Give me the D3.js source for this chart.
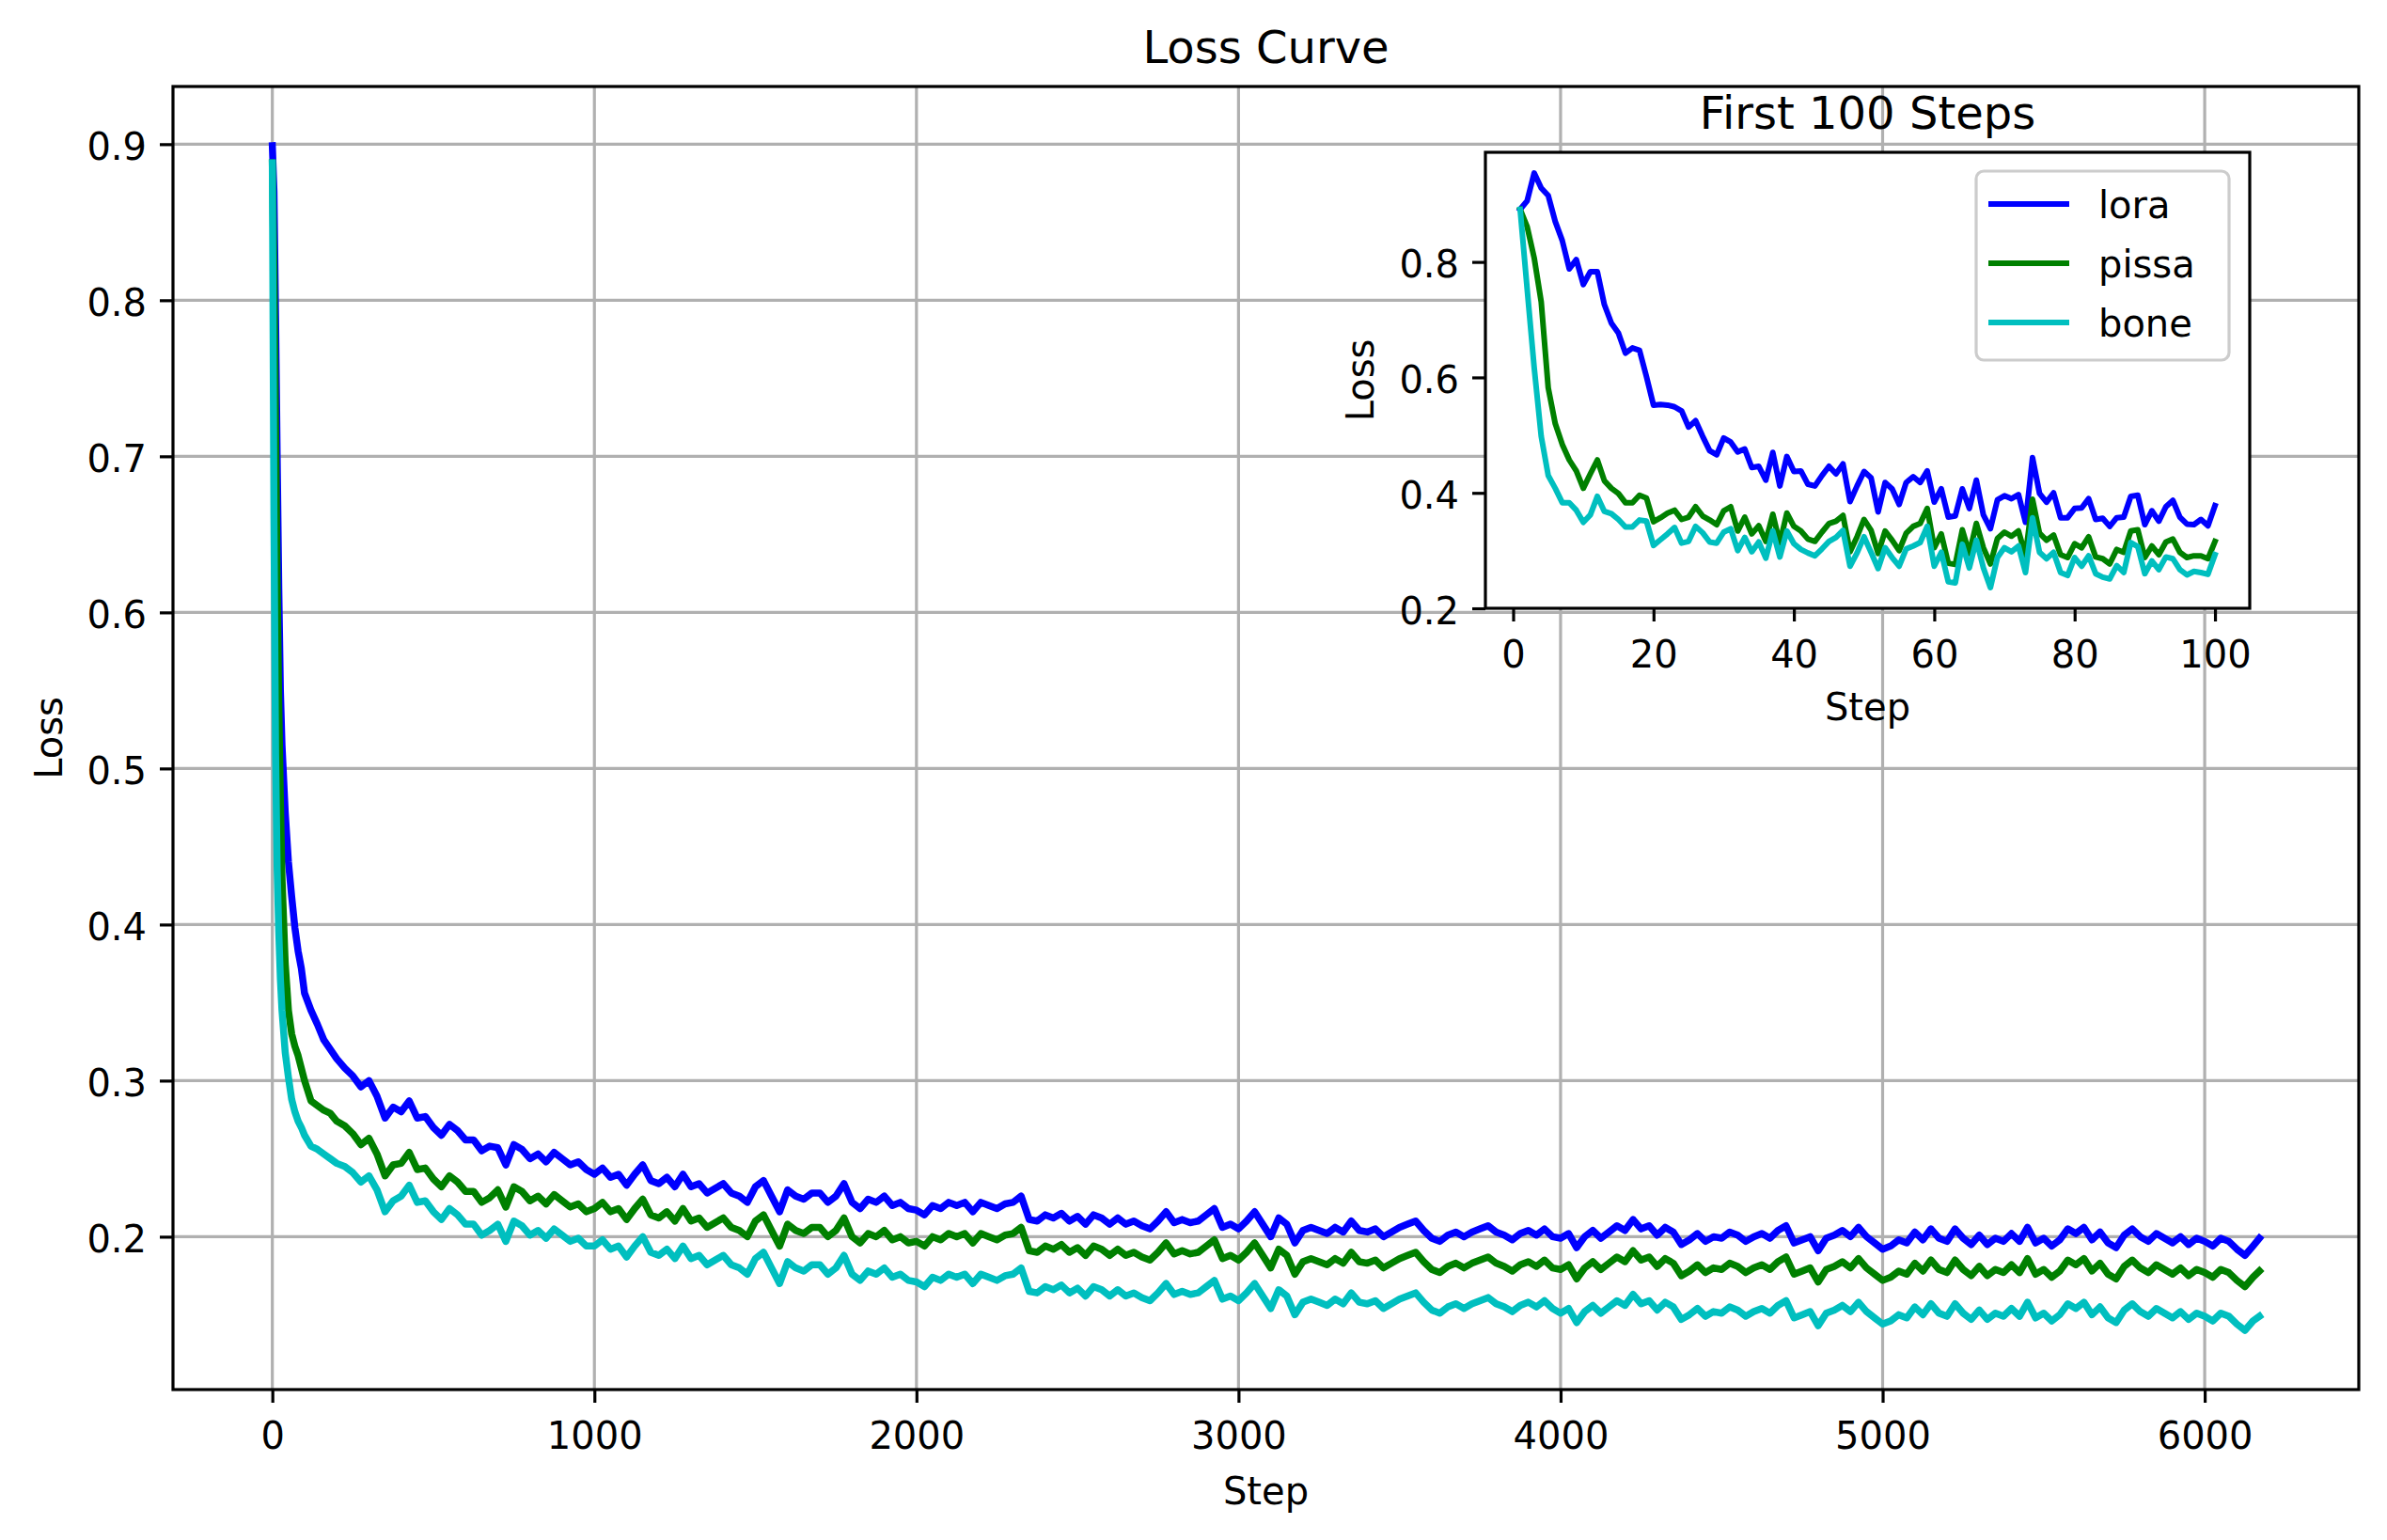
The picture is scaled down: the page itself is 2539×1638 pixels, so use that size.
<!DOCTYPE html>
<html>
<head>
<meta charset="utf-8">
<script src="https://cdn.jsdelivr.net/npm/d3@7"></script>
<style>
  body { margin: 0; background: #fff; }
  svg text { font-family: "DejaVu Sans", sans-serif; fill: #000; }
</style>
</head>
<body>
<svg id="chart" width="2539" height="1638"></svg>
<script>
var seriesNames = ['lora', 'pissa', 'bone'];
var seriesColors = ['#0000ff', '#008000', '#00bfbf'];

// main plot: dense steps at the start, then every 25 steps
var earlySteps = [0, 5, 10, 15, 20, 25, 30, 40, 50, 60, 70, 80, 90, 100, 120, 140, 160, 180, 200];
var mainSteps = earlySteps.concat(d3.range(225, 6151, 25), [6170]);

var loraLoss = [
  0.899, 0.87, 0.79, 0.70, 0.615, 0.55, 0.515, 0.472, 0.44, 0.418, 0.398, 0.383, 0.372, 0.356, 0.345, 0.336, 0.326, 0.320, 0.314,
  .308, .303, .296, .300, .290, .276, .283, .280, .287, .276, .277,
  .270, .265, .272, .268, .262, .262, .255, .258, .257, .246, .259, .256, .250, .253, .248, .254, .250, .246, .248, .243,
  .240, .244, .238, .240, .233, .240, .246, .236, .234, .238, .232, .240, .232, .234, .228, .231, .234, .228, .226, .222,
  .232, .236, .226, .216, .230, .226, .224, .228, .228, .222, .226, .234, .222, .218, .224, .222, .226, .220, .222, .218,
  .217, .214, .220, .218, .222, .220, .222, .216, .222, .220, .218, .221, .222, .226, .211, .210, .214, .212, .215, .210,
  .213, .208, .214, .212, .208, .212, .208, .210, .207, .205, .210, .216, .209, .211, .209, .210, .214, .218, .206, .208,
  .205, .210, .216, .208, .200, .212, .208, .196, .204, .206, .204, .202, .206, .203, .210, .204, .203, .205, .200, .203,
  .206, .208, .210, .204, .199, .197, .201, .203, .200, .203, .205, .207, .203, .201, .198, .202, .204, .201, .205, .200,
  .199, .202, .193, .200, .204, .199, .203, .207, .204, .211, .205, .207, .201, .206, .203, .195, .198, .202, .197, .200,
  .199, .203, .201, .197, .200, .202, .199, .204, .207, .196, .198, .200, .191, .199, .201, .204, .200, .206, .200, .196,
  .192, .194, .198, .196, .203, .198, .205, .199, .197, .205, .199, .195, .201, .195, .199, .197, .202, .197, .206, .196,
  .199, .194, .198, .205, .202, .206, .198, .203, .196, .193, .201, .205, .200, .197, .202, .199, .196, .200, .195, .199,
  .197, .194, .199, .197, .192, .188, .194, .199
];
var pissaLoss = [
  0.888, 0.82, 0.72, 0.62, 0.54, 0.48, 0.43, 0.375, 0.345, 0.330, 0.322, 0.316, 0.308, 0.300, 0.287, 0.284, 0.281, 0.279, 0.274,
  .271, .266, .259, .263, .253, .239, .246, .247, .254, .243, .244,
  .237, .232, .239, .235, .229, .229, .222, .225, .230, .219, .232, .229, .223, .226, .221, .227, .223, .219, .221, .216,
  .218, .222, .216, .218, .211, .218, .224, .214, .212, .216, .210, .218, .210, .212, .206, .209, .212, .206, .204, .200,
  .210, .214, .204, .194, .208, .204, .202, .206, .206, .200, .204, .212, .200, .196, .202, .200, .204, .198, .200, .196,
  .197, .194, .200, .198, .202, .200, .202, .196, .202, .200, .198, .201, .202, .206, .191, .190, .194, .192, .195, .190,
  .193, .188, .194, .192, .188, .192, .188, .190, .187, .185, .190, .196, .189, .191, .189, .190, .194, .198, .186, .188,
  .185, .190, .196, .188, .180, .192, .188, .176, .184, .186, .184, .182, .186, .183, .190, .184, .183, .185, .180, .183,
  .186, .188, .190, .184, .179, .177, .181, .183, .180, .183, .185, .187, .183, .181, .178, .182, .184, .181, .185, .180,
  .179, .182, .173, .180, .184, .179, .183, .187, .184, .191, .185, .187, .181, .186, .183, .175, .178, .182, .177, .180,
  .179, .183, .181, .177, .180, .182, .179, .184, .187, .176, .178, .180, .171, .179, .181, .184, .180, .186, .180, .176,
  .172, .174, .178, .176, .183, .178, .185, .179, .177, .185, .179, .175, .181, .175, .179, .177, .182, .177, .186, .176,
  .179, .174, .178, .185, .182, .186, .178, .183, .176, .173, .181, .185, .180, .177, .182, .179, .176, .180, .175, .179,
  .177, .174, .179, .177, .172, .168, .174, .178
];
var boneLoss = [
  0.888, 0.66, 0.51, 0.435, 0.395, 0.365, 0.345, 0.318, 0.302, 0.288, 0.280, 0.274, 0.270, 0.265, 0.258, 0.256, 0.253, 0.250, 0.247,
  .245, .241, .235, .239, .230, .216, .223, .226, .233, .222, .223,
  .216, .211, .218, .214, .208, .208, .201, .204, .208, .197, .210, .207, .201, .204, .199, .205, .201, .197, .199, .194,
  .194, .198, .192, .194, .187, .194, .200, .190, .188, .192, .186, .194, .186, .188, .182, .185, .188, .182, .180, .176,
  .186, .190, .180, .170, .184, .180, .178, .182, .182, .176, .180, .188, .176, .172, .178, .176, .180, .174, .176, .172,
  .171, .168, .174, .172, .176, .174, .176, .170, .176, .174, .172, .175, .176, .180, .165, .164, .168, .166, .169, .164,
  .167, .162, .168, .166, .162, .166, .162, .164, .161, .159, .164, .170, .163, .165, .163, .164, .168, .172, .160, .162,
  .159, .164, .170, .162, .154, .166, .162, .150, .158, .160, .158, .156, .160, .157, .164, .158, .157, .159, .154, .157,
  .160, .162, .164, .158, .153, .151, .155, .157, .154, .157, .159, .161, .157, .155, .152, .156, .158, .155, .159, .154,
  .151, .154, .145, .152, .156, .151, .155, .159, .156, .163, .157, .159, .153, .158, .155, .147, .150, .154, .149, .152,
  .151, .155, .153, .149, .152, .154, .151, .156, .159, .148, .150, .152, .143, .151, .153, .156, .152, .158, .152, .148,
  .144, .146, .150, .148, .155, .150, .157, .151, .149, .157, .151, .147, .153, .147, .151, .149, .154, .149, .158, .148,
  .151, .146, .150, .157, .154, .158, .150, .155, .148, .145, .153, .157, .152, .149, .154, .151, .148, .152, .147, .151,
  .149, .146, .151, .149, .144, .140, .146, .149
];

// inset: raw loss for steps 1..100
var insetSteps = d3.range(1, 101);
var loraFirst = [
  .891, .906, .954, .928, .915, .870, .837, .788, .804, .761,
  .783, .783, .726, .694, .677, .642, .651, .647, .601, .552,
  .553, .552, .549, .542, .514, .525, .498, .473, .466, .495,
  .488, .471, .476, .444, .446, .422, .470, .412, .463, .437,
  .438, .415, .412, .430, .446, .433, .450, .385, .412, .437,
  .426, .367, .418, .407, .380, .418, .428, .418, .438, .384,
  .407, .358, .360, .407, .373, .422, .362, .338, .388, .395,
  .390, .397, .349, .461, .399, .384, .400, .357, .357, .373,
  .374, .390, .354, .356, .342, .357, .358, .394, .396, .345,
  .369, .351, .376, .387, .358, .346, .345, .354, .343, .378
];
var pissaFirst = [
  .891, .861, .807, .731, .582, .520, .484, .457, .438, .408,
  .433, .457, .421, .408, .399, .383, .383, .396, .391, .350,
  .357, .365, .370, .354, .358, .376, .360, .353, .345, .369,
  .376, .334, .358, .329, .343, .316, .363, .313, .365, .342,
  .334, .320, .316, .332, .347, .351, .361, .298, .324, .354,
  .335, .295, .334, .318, .300, .330, .342, .347, .373, .305,
  .329, .278, .276, .336, .295, .347, .305, .277, .321, .332,
  .325, .334, .292, .389, .330, .318, .327, .293, .288, .312,
  .305, .324, .289, .286, .277, .302, .297, .334, .336, .288,
  .308, .293, .315, .320, .297, .288, .291, .291, .286, .316
];
var boneFirst = [
  .891, .753, .617, .498, .430, .408, .383, .383, .370, .349,
  .362, .394, .368, .364, .354, .341, .341, .353, .351, .309,
  .319, .329, .340, .313, .316, .342, .331, .315, .313, .332,
  .338, .300, .323, .298, .315, .287, .334, .289, .334, .312,
  .302, .296, .291, .303, .316, .323, .335, .273, .296, .324,
  .297, .269, .305, .288, .273, .303, .308, .314, .342, .273,
  .297, .246, .244, .311, .270, .318, .270, .236, .288, .305,
  .298, .308, .262, .357, .297, .286, .297, .262, .257, .288,
  .273, .291, .260, .254, .251, .274, .262, .314, .307, .260,
  .282, .267, .289, .286, .267, .258, .264, .262, .259, .293
];

var mainXTicks = [0, 1000, 2000, 3000, 4000, 5000, 6000];
var mainXTickLabels = ['0', '1000', '2000', '3000', '4000', '5000', '6000'];
var mainYTicks = [0.2, 0.3, 0.4, 0.5, 0.6, 0.7, 0.8, 0.9];
var mainYTickLabels = ['0.2', '0.3', '0.4', '0.5', '0.6', '0.7', '0.8', '0.9'];
var insetXTicks = [0, 20, 40, 60, 80, 100];
var insetXTickLabels = ['0', '20', '40', '60', '80', '100'];
var insetYTicks = [0.2, 0.4, 0.6, 0.8];
var insetYTickLabels = ['0.2', '0.4', '0.6', '0.8'];

var svg = d3.select('#chart');
svg.append('rect').attr('width', 2539).attr('height', 1638).attr('fill', '#fff');

// matplotlib-like 5% data margins
function padded(lo, hi) {
  var r = hi - lo;
  return [lo - r * 0.05, hi + r * 0.05];
}

function panel(id, box, steps, series, xt, xtl, yt, ytl, opts) {
  var allVals = d3.merge(series);
  var x = d3.scaleLinear().domain(padded(d3.min(steps), d3.max(steps))).range([box.left, box.right]);
  var y = d3.scaleLinear().domain(padded(d3.min(allVals), d3.max(allVals))).range([box.bottom, box.top]);
  var g = svg.append('g').attr('class', id);

  g.append('rect')
    .attr('x', box.left).attr('y', box.top)
    .attr('width', box.right - box.left).attr('height', box.bottom - box.top)
    .attr('fill', '#fff');

  g.append('clipPath').attr('id', 'clip-' + id)
    .append('rect')
    .attr('x', box.left).attr('y', box.top)
    .attr('width', box.right - box.left).attr('height', box.bottom - box.top);

  if (opts.grid) {
    var grid = g.append('g').attr('stroke', '#b0b0b0').attr('stroke-width', 3.2);
    grid.selectAll('line.gx').data(xt).enter().append('line')
      .attr('x1', function(d) { return x(d); }).attr('x2', function(d) { return x(d); })
      .attr('y1', box.top).attr('y2', box.bottom);
    grid.selectAll('line.gy').data(yt).enter().append('line')
      .attr('y1', function(d) { return y(d); }).attr('y2', function(d) { return y(d); })
      .attr('x1', box.left).attr('x2', box.right);
  }

  var line = d3.line()
    .x(function(d) { return x(d[0]); })
    .y(function(d) { return y(d[1]); });

  g.append('g').attr('clip-path', 'url(#clip-' + id + ')')
    .selectAll('path').data(series).enter().append('path')
    .attr('d', function(vals) { return line(steps.map(function(s, i) { return [s, vals[i]]; })); })
    .attr('fill', 'none')
    .attr('stroke', function(d, i) { return seriesColors[i]; })
    .attr('stroke-width', opts.lineWidth)
    .attr('stroke-linejoin', 'round')
    .attr('stroke-linecap', 'square');

  var xAxis = g.append('g')
    .attr('transform', 'translate(0,' + box.bottom + ')')
    .call(d3.axisBottom(x).tickValues(xt)
      .tickFormat(function(d, i) { return xtl[i]; })
      .tickSize(14).tickSizeOuter(0).tickPadding(14));
  var yAxis = g.append('g')
    .attr('transform', 'translate(' + box.left + ',0)')
    .call(d3.axisLeft(y).tickValues(yt)
      .tickFormat(function(d, i) { return ytl[i]; })
      .tickSize(14).tickSizeOuter(0).tickPadding(14));

  [xAxis, yAxis].forEach(function(a) {
    a.select('.domain').remove();
    a.attr('font-family', '"DejaVu Sans", sans-serif').attr('font-size', 40);
    a.selectAll('line').attr('stroke', '#000').attr('stroke-width', 3.2);
  });
  xAxis.selectAll('text').attr('dy', null).attr('y', 63);
  yAxis.selectAll('text').attr('dy', null).attr('y', 16);

  g.append('rect')
    .attr('x', box.left).attr('y', box.top)
    .attr('width', box.right - box.left).attr('height', box.bottom - box.top)
    .attr('fill', 'none').attr('stroke', '#000').attr('stroke-width', 3.2);

  var cx = (box.left + box.right) / 2;
  g.append('text').attr('x', cx).attr('y', opts.titleY)
    .attr('text-anchor', 'middle').attr('font-size', 48).text(opts.title);
  g.append('text').attr('x', cx).attr('y', opts.xLabelY)
    .attr('text-anchor', 'middle').attr('font-size', 40).text('Step');
  g.append('text')
    .attr('transform', 'translate(' + opts.yLabelX + ',' + ((box.top + box.bottom) / 2) + ') rotate(-90)')
    .attr('text-anchor', 'middle').attr('font-size', 40).text('Loss');

  return g;
}

panel('main', { left: 184, right: 2509, top: 92, bottom: 1478 },
  mainSteps, [loraLoss, pissaLoss, boneLoss],
  mainXTicks, mainXTickLabels, mainYTicks, mainYTickLabels,
  { grid: true, lineWidth: 7.5, title: 'Loss Curve', titleY: 67, xLabelY: 1600, yLabelX: 66 });

var inset = panel('inset', { left: 1580, right: 2393, top: 162, bottom: 647 },
  insetSteps, [loraFirst, pissaFirst, boneFirst],
  insetXTicks, insetXTickLabels, insetYTicks, insetYTickLabels,
  { grid: false, lineWidth: 6, title: 'First 100 Steps', titleY: 137, xLabelY: 766, yLabelX: 1461 });

// legend, upper right of the inset
var legend = inset.append('g');
legend.append('rect')
  .attr('x', 2102).attr('y', 182).attr('width', 269).attr('height', 201)
  .attr('rx', 8).attr('ry', 8)
  .attr('fill', '#fff').attr('fill-opacity', 0.8)
  .attr('stroke', '#cccccc').attr('stroke-width', 3.2);
var entries = legend.selectAll('g.entry').data(seriesNames).enter().append('g')
  .attr('transform', function(d, i) { return 'translate(2118,' + (217 + i * 63) + ')'; });
entries.append('line')
  .attr('x1', 0).attr('x2', 80).attr('y1', 0).attr('y2', 0)
  .attr('stroke', function(d, i) { return seriesColors[i]; })
  .attr('stroke-width', 6).attr('stroke-linecap', 'square');
entries.append('text')
  .attr('x', 114).attr('y', 15)
  .attr('font-size', 40)
  .text(function(d) { return d; });
</script>
</body>
</html>
